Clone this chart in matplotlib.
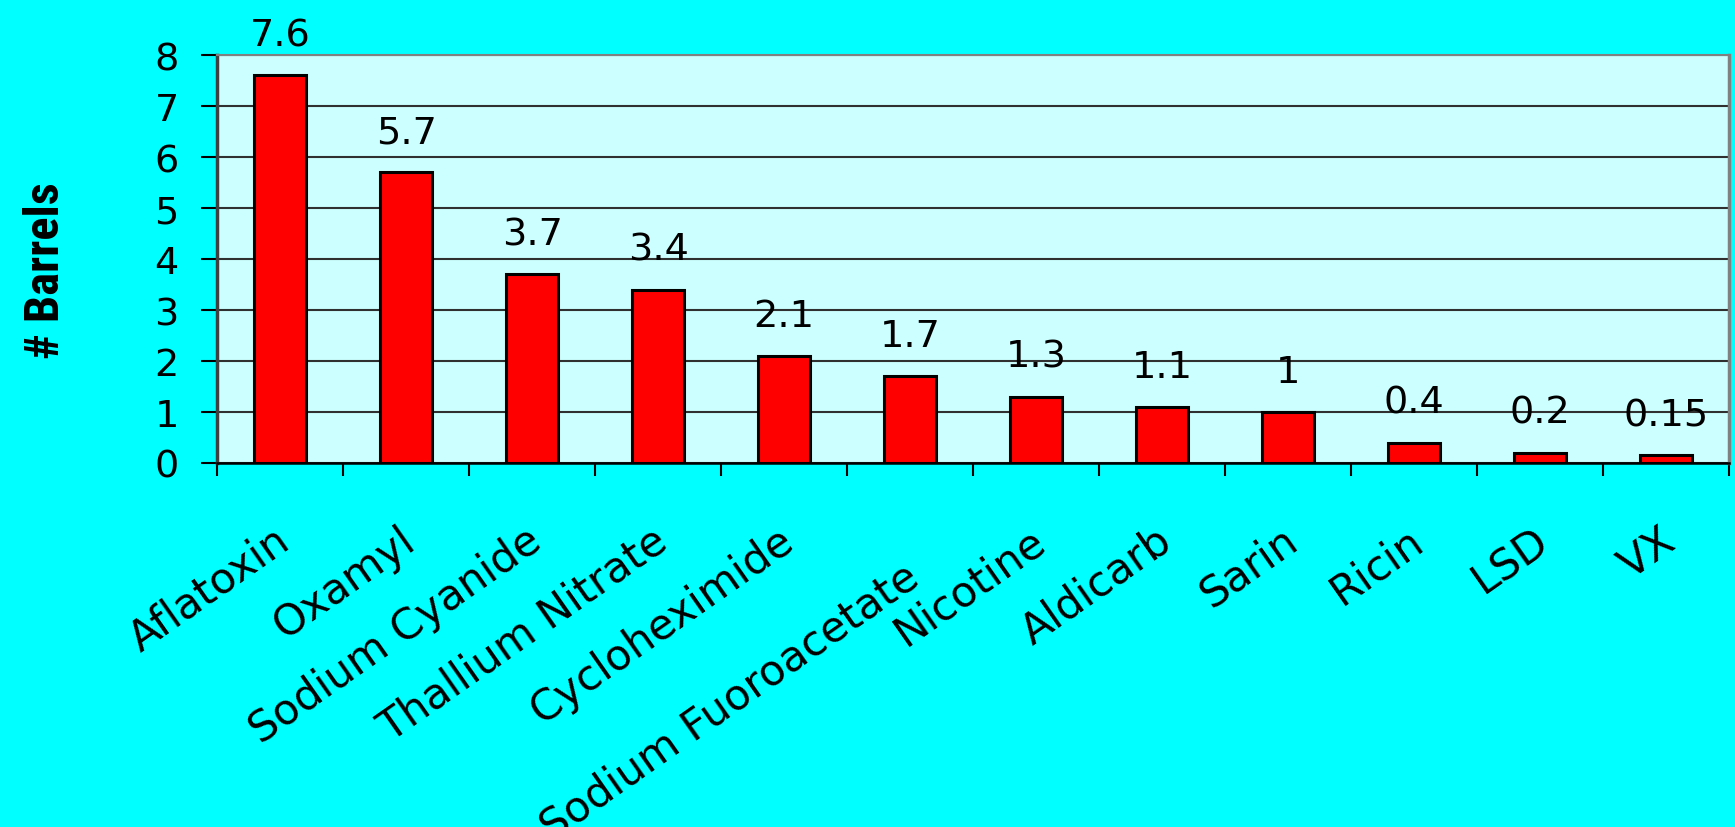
import matplotlib
matplotlib.use("Agg")
import matplotlib.pyplot as plt
import matplotlib.transforms as mtransforms

# Données
agents = ["Aflatoxin", "Oxamyl", "Sodium Cyanide", "Thallium Nitrate",
          "Cycloheximide", "Sodium Fuoroacetate", "Nicotine", "Aldicarb",
          "Sarin", "Ricin", "LSD", "VX"]
barrels = [7.6, 5.7, 3.7, 3.4, 2.1, 1.7, 1.3, 1.1, 1.0, 0.4, 0.2, 0.15]
value_labels = ["7.6", "5.7", "3.7", "3.4", "2.1", "1.7", "1.3", "1.1",
                "1", "0.4", "0.2", "0.15"]
y_ticks = [0, 1, 2, 3, 4, 5, 6, 7, 8]

plt.rcParams["font.family"] = ["DejaVu Sans"]

W, H = 1735, 828
fig = plt.figure(figsize=(W / 100, H / 100), dpi=100, facecolor="#00FFFF")
ax = fig.add_axes([217 / W, 1 - 464 / H, (1729 - 217) / W, (464 - 56) / H])
ax.set_facecolor("#CCFFFF")

x = list(range(len(agents)))
ax.bar(x, barrels, width=0.41, color="#FF0000", edgecolor="black",
       linewidth=2.2, zorder=3)

# étiquettes de valeur au-dessus des barres
for xi, v, txt in zip(x, barrels, value_labels):
    ax.annotate(txt, (xi, v), xytext=(0, 21.5), textcoords="offset points",
                ha="center", va="baseline", fontsize=27.5, color="black",
                annotation_clip=False)

ax.set_xlim(-0.5, len(agents) - 0.5)
ax.set_ylim(0, 8)
ax.set_yticks(y_ticks)
ax.tick_params(axis="y", labelsize=27.5, length=11.5, width=1.5, pad=16,
               color="black")
ax.yaxis.grid(True, color="#303030", linewidth=1.5)
ax.set_axisbelow(True)

# catégories centrées, graduations entre les barres
ax.set_xticks(x)
ax.set_xticklabels(agents, rotation=35, ha="right", va="top",
                   rotation_mode="anchor", fontsize=30.5)
ax.tick_params(axis="x", which="major", length=0, pad=40)
ax.set_xticks([i - 0.5 for i in range(len(agents) + 1)], minor=True)
ax.tick_params(axis="x", which="minor", length=9.5, width=1.5, color="black")

# petit décalage horizontal des étiquettes, et la longue plus bas
for i, lbl in enumerate(ax.get_xticklabels()):
    dy = -0.36 if i == 5 else 0.0
    lbl.set_transform(lbl.get_transform() +
                      mtransforms.ScaledTranslation(-0.07, dy, fig.dpi_scale_trans))

ax.spines["left"].set_color("#404040")
ax.spines["left"].set_linewidth(2.5)
ax.spines["bottom"].set_color("black")
ax.spines["bottom"].set_linewidth(1.8)
ax.spines["top"].set_color("#808080")
ax.spines["top"].set_linewidth(1.5)
ax.spines["right"].set_color("#808080")
ax.spines["right"].set_linewidth(2.5)

ax.set_ylabel("# Barrels",
              family=["Roboto Condensed", "Liberation Sans Narrow", "DejaVu Sans"],
              fontstretch="condensed", fontweight="bold", fontsize=35,
              va="center")
ax.yaxis.set_label_coords(-0.113, 0.475)

fig.savefig("out.png", dpi=100, facecolor=fig.get_facecolor())
